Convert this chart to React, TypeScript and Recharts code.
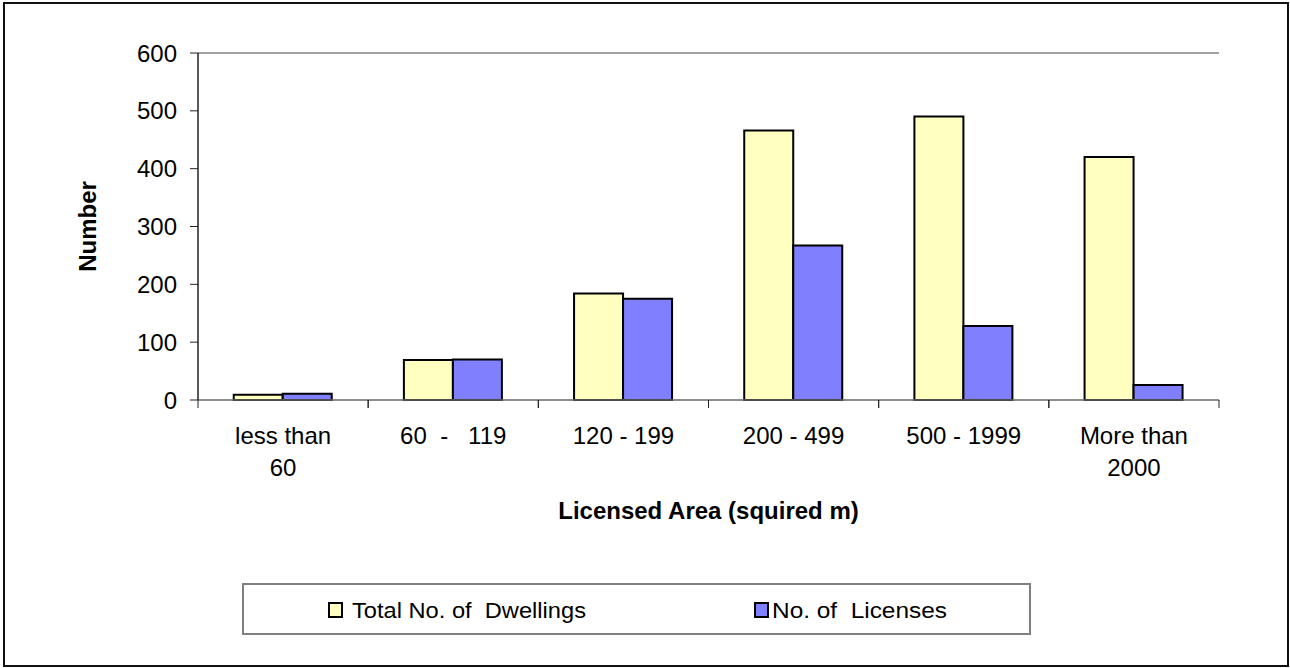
import React from 'react';
import { BarChart, Bar, XAxis, YAxis, Legend, ReferenceLine, Label } from 'recharts';

const categories = ['less than\n60', '60  -   119', '120 - 199', '200 - 499', '500 - 1999', 'More than\n2000'];
const dwellings = [9, 69, 184, 466, 490, 420];
const licenses = [11, 70, 175, 267, 128, 26];
const yTicks = [0, 100, 200, 300, 400, 500, 600];
const seriesNames = ['Total No. of  Dwellings', 'No. of  Licenses'];
const seriesColors = ['#FFFFC0', '#8080FF'];
const legendTextWidths = [234, 175];

const data = categories.map((c, i) => ({ name: c, d: dwellings[i], l: licenses[i] }));

const FONT = '"Liberation Sans", Arial, Helvetica, sans-serif';

const XTick = (props: any) => {
  const { x, y, payload } = props;
  const half = payload && typeof payload.offset === 'number' && payload.offset > 0 ? payload.offset : 1021 / 12;
  const lines = String(payload.value).split('\n');
  return (
    <g>
      <line x1={x - half} x2={x - half} y1={y} y2={y + 8} stroke="#222" strokeWidth={1} />
      <line x1={x + half} x2={x + half} y1={y} y2={y + 8} stroke="#222" strokeWidth={1} />
      {lines.map((ln, i) => (
        <text key={i} x={x} y={y + 44 + i * 32} textAnchor="middle" fontSize={24} fontFamily={FONT} fill="#000" style={{ whiteSpace: 'pre' }}>
          {ln}
        </text>
      ))}
    </g>
  );
};

const renderLegend = (props: any) => {
  const payload = props.payload || [];
  const items = seriesNames.map((name, i) => {
    const found = payload.find((p: any) => p.value === name);
    return { name, color: found && found.color ? found.color : seriesColors[i] };
  });
  return (
    <div style={{ width: '100%', height: '100%', boxSizing: 'border-box', border: '2px solid #808080', background: '#fff' }}>
      <svg width={785} height={48} style={{ display: 'block' }}>
        {items.map((p, i) => (
          <g key={i}>
            <rect x={85 + i * 426} y={18} width={13} height={14} fill={p.color} stroke="#000" strokeWidth={2} />
            <text x={108 + i * 420} y={33} fontSize={22} fontFamily={FONT} fill="#000" textLength={legendTextWidths[i]} lengthAdjust="spacingAndGlyphs" style={{ whiteSpace: 'pre' }}>
              {p.name}
            </text>
          </g>
        ))}
      </svg>
    </div>
  );
};

export default function App() {
  return (
    <div style={{ position: 'absolute', left: 0, top: 0, width: 1290, height: 668, background: '#fff' }}>
      <div style={{ position: 'absolute', left: 3, top: 2, width: 1286, height: 665, boxSizing: 'border-box', border: '2px solid #111' }} />
      <div style={{ position: 'absolute', left: 0, top: 0 }}>
        <BarChart width={1290} height={668} data={data} margin={{ top: 53, right: 71, bottom: 128, left: 0 }} barCategoryGap="21%" barGap={0}>
          <XAxis dataKey="name" height={140} tick={<XTick />} tickLine={false} tickSize={0} tickMargin={0} axisLine={{ stroke: '#666', strokeWidth: 1.5 }} interval={0}>
            <Label
              content={(p: any) => {
                const vb = p.viewBox || {};
                return (
                  <text x={vb.x + vb.width / 2} y={vb.y + 119} textAnchor="middle" fontSize={24} fontWeight="bold" fontFamily={FONT} fill="#000">
                    Licensed Area (squired m)
                  </text>
                );
              }}
            />
          </XAxis>
          <YAxis width={198} domain={[0, 600]} ticks={yTicks} interval={0} tick={{ fontSize: 24, fill: '#000', fontFamily: FONT }} tickSize={8} tickMargin={13} tickLine={{ stroke: '#222' }} axisLine={{ stroke: '#222', strokeWidth: 1.5 }}>
            <Label
              content={(p: any) => {
                const vb = p.viewBox || {};
                const cx = 87;
                const cy = vb.y + vb.height / 2;
                return (
                  <text x={cx} y={cy} transform={`rotate(-90 ${cx} ${cy})`} textAnchor="middle" dominantBaseline="central" fontSize={24} fontWeight="bold" fontFamily={FONT} fill="#000">
                    Number
                  </text>
                );
              }}
            />
          </YAxis>
          <YAxis yAxisId="right" orientation="right" width={0} domain={[0, 600]} tick={false} tickLine={false} axisLine={{ stroke: '#808080', strokeWidth: 1.5 }} />
          <ReferenceLine y={600} stroke="#808080" strokeWidth={1.5} />
          <Legend layout="vertical" align="center" verticalAlign="middle" wrapperStyle={{ left: 242, top: 583, width: 789, height: 52 }} content={renderLegend} />
          <Bar dataKey="d" name={seriesNames[0]} fill={seriesColors[0]} stroke="#000" strokeWidth={2} isAnimationActive={false} />
          <Bar dataKey="l" name={seriesNames[1]} fill={seriesColors[1]} stroke="#000" strokeWidth={2} isAnimationActive={false} />
        </BarChart>
      </div>
    </div>
  );
}
